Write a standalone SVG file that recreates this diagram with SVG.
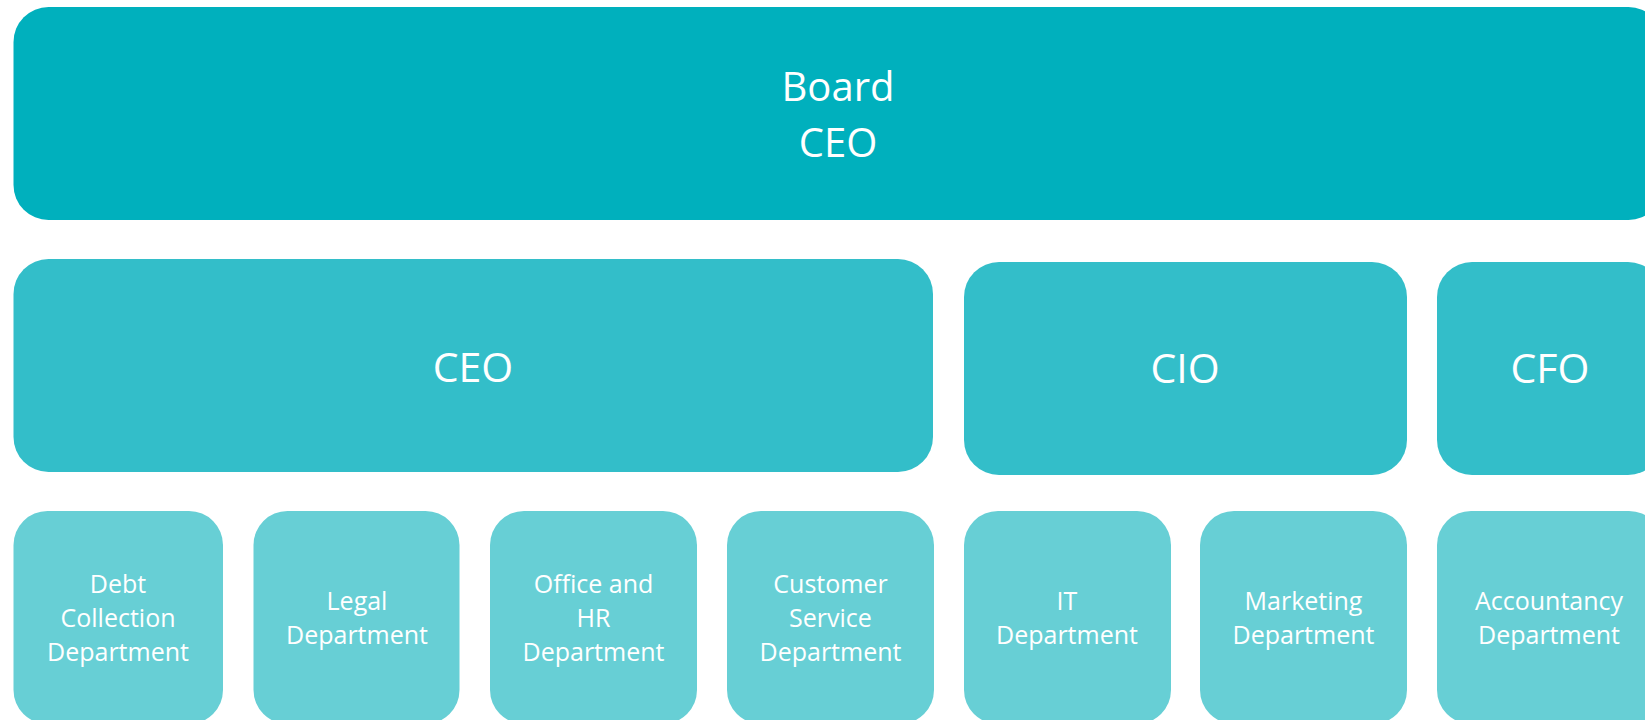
<svg xmlns="http://www.w3.org/2000/svg" width="1645" height="720" viewBox="0 0 1645 720">
<style>
.t{font-family:"Open Sans","Liberation Sans",sans-serif;fill:#ffffff;text-anchor:middle}
.l1{fill:#00B0BD}
.l2{fill:#33BEC9}
.l3{fill:#67CFD5}
.big{font-size:40px}
.mid{font-size:41px}
.sm{font-size:25px}
</style>
<rect width="1645" height="720" fill="#ffffff"/>
<g id="connectors"></g>
<g id="board">
<rect class="l1" x="13.5" y="7" width="1650" height="213" rx="35"/>
<text class="t big" x="838" y="101">Board</text>
<text class="t big" x="838" y="157">CEO</text>
</g>
<g id="ceo">
<rect class="l2" x="13.5" y="259" width="919.5" height="213" rx="35"/>
<text class="t mid" x="473" y="382">CEO</text>
</g>
<g id="cio">
<rect class="l2" x="964" y="262" width="443" height="213" rx="35"/>
<text class="t mid" x="1185" y="383">CIO</text>
</g>
<g id="cfo">
<rect class="l2" x="1437" y="262" width="226" height="213" rx="35"/>
<text class="t mid" x="1550" y="383">CFO</text>
</g>
<g id="debt">
<rect class="l3" x="13.5" y="511" width="209.5" height="213" rx="34"/>
<text class="t sm" x="118" y="593">Debt</text>
<text class="t sm" x="118" y="627">Collection</text>
<text class="t sm" x="118" y="661">Department</text>
</g>
<g id="legal">
<rect class="l3" x="253.5" y="511" width="206" height="213" rx="34"/>
<text class="t sm" x="357" y="610">Legal</text>
<text class="t sm" x="357" y="644">Department</text>
</g>
<g id="office">
<rect class="l3" x="490" y="511" width="207" height="213" rx="34"/>
<text class="t sm" x="593.5" y="593">Office and</text>
<text class="t sm" x="593.5" y="627">HR</text>
<text class="t sm" x="593.5" y="661">Department</text>
</g>
<g id="customer">
<rect class="l3" x="727" y="511" width="207" height="213" rx="34"/>
<text class="t sm" x="830.5" y="593">Customer</text>
<text class="t sm" x="830.5" y="627">Service</text>
<text class="t sm" x="830.5" y="661">Department</text>
</g>
<g id="it">
<rect class="l3" x="964" y="511" width="207" height="213" rx="34"/>
<text class="t sm" x="1067" y="610">IT</text>
<text class="t sm" x="1067" y="644">Department</text>
</g>
<g id="marketing">
<rect class="l3" x="1200" y="511" width="207" height="213" rx="34"/>
<text class="t sm" x="1303.5" y="610">Marketing</text>
<text class="t sm" x="1303.5" y="644">Department</text>
</g>
<g id="accountancy">
<rect class="l3" x="1437" y="511" width="226" height="213" rx="34"/>
<text class="t sm" x="1549" y="610">Accountancy</text>
<text class="t sm" x="1549" y="644">Department</text>
</g>
</svg>
